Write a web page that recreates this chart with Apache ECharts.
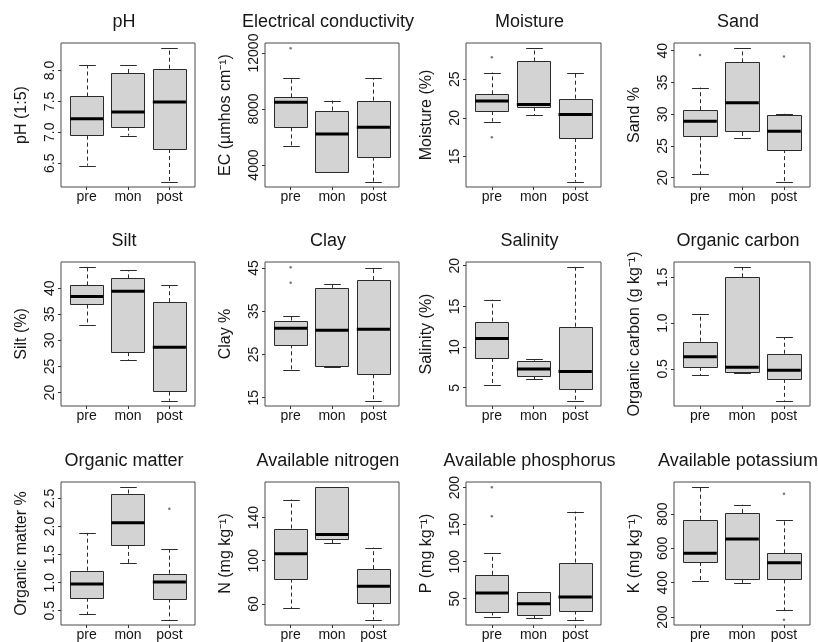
<!DOCTYPE html>
<html>
<head>
<meta charset="utf-8">
<title>Soil parameters by season</title>
<script src="https://cdn.jsdelivr.net/npm/echarts@6/dist/echarts.min.js"></script>
<style>
html,body{margin:0;padding:0;background:#fff;}
#chart{width:818px;height:642px;}
</style>
</head>
<body>
<div id="chart"></div>
<script>
/**
 * data
 * box rows: [lower whisker, Q1, median, Q3, upper whisker] for pre / mon / post
 * outliers: [season index, value]
 */
var seasons = ['pre', 'mon', 'post'];

var titles = ['pH', 'Electrical conductivity', 'Moisture', 'Sand',
	'Silt', 'Clay', 'Salinity', 'Organic carbon',
	'Organic matter', 'Available nitrogen', 'Available phosphorus', 'Available potassium'];

var yNames = ['pH (1:5)', 'EC (\u00b5mhos cm\u207b\u00b9)', 'Moisture (%)', 'Sand %',
	'Silt (%)', 'Clay %', 'Salinity (%)', 'Organic carbon (g kg\u207b\u00b9)',
	'Organic matter %', 'N (mg kg\u207b\u00b9)', 'P (mg kg\u207b\u00b9)', 'K (mg kg\u207b\u00b9)'];

var phBox = [[6.46, 6.945, 7.22, 7.58, 8.09], [6.945, 7.09, 7.33, 7.96, 8.09], [6.2, 6.73, 7.49, 8.03, 8.36]];
var phOut = [];
var phTicks = [6.5, 7.0, 7.5, 8.0];

var ecBox = [[5336, 6693, 8479, 8836, 10221], [3529, 3529, 6221, 7886, 8600], [2814, 4600, 6693, 8600, 10221]];
var ecOut = [[0, 12336]];
var ecTicks = [4000, 8000, 12000];

var moistBox = [[19.52, 20.87, 22.17, 23.04, 25.87], [20.35, 21.39, 21.74, 27.3, 29.0], [11.74, 17.4, 20.44, 22.48, 25.87]];
var moistOut = [[0, 27.83], [0, 17.48]];
var moistTicks = [15, 20, 25];

var sandBox = [[20.54, 26.51, 28.89, 30.63, 34.19], [26.25, 27.21, 31.81, 38.16, 40.38], [19.37, 24.5, 27.3, 29.95, 30.06]];
var sandOut = [[0, 39.32], [2, 39.1]];
var sandTicks = [20, 25, 30, 35, 40];

var siltBox = [[32.94, 36.87, 38.4, 40.52, 43.98], [26.28, 27.75, 39.42, 41.86, 43.46], [18.46, 20.19, 28.7, 37.3, 40.58]];
var siltOut = [];
var siltTicks = [20, 25, 30, 35, 40];

var clayBox = [[21.44, 27.33, 31.05, 32.84, 34.0], [22.05, 22.44, 30.58, 40.42, 41.2], [14.3, 20.42, 30.81, 42.2, 45.07]];
var clayOut = [[0, 45.16], [0, 41.58]];
var clayTicks = [15, 25, 35, 45];

var salBox = [[5.33, 8.66, 11.04, 13.12, 15.83], [6.04, 6.45, 7.29, 8.33, 8.5], [3.41, 4.88, 7.0, 12.5, 19.8]];
var salOut = [];
var salTicks = [5, 10, 15, 20];

var ocBox = [[0.43, 0.522, 0.632, 0.797, 1.104], [0.45, 0.456, 0.518, 1.5, 1.61], [0.152, 0.39, 0.485, 0.665, 0.847]];
var ocOut = [];
var ocTicks = [0.5, 1.0, 1.5];

var omBox = [[0.44, 0.732, 0.977, 1.214, 1.887], [1.345, 1.673, 2.066, 2.589, 2.70], [0.34, 0.72, 1.01, 1.16, 1.60]];
var omOut = [[2, 2.316]];
var omTicks = [0.5, 1.0, 1.5, 2.0, 2.5];

var nBox = [[55.9, 83.5, 106.5, 129.8, 156.7], [116.1, 119.5, 124.2, 168, 168], [45.4, 60.6, 76.4, 92.2, 112.1]];
var nOut = [];
var nTicks = [60, 100, 140];

var pBox = [[24.8, 32.9, 57.7, 82.3, 111.6], [23.5, 27.5, 43.3, 59.0, 59.0], [21.7, 34.2, 52.3, 98.9, 167.7]];
var pOut = [[0, 200.5], [0, 161.5]];
var pTicks = [50, 100, 150, 200];

var kBox = [[409, 520.5, 571.4, 766.5, 955.7], [399.4, 419.1, 655.2, 805.7, 854.4], [239.3, 419.1, 516.3, 571.4, 762.7]];
var kOut = [[2, 918.8], [2, 184.8]];
var kTicks = [200, 400, 600, 800];

var boxes = [phBox, ecBox, moistBox, sandBox, siltBox, clayBox, salBox, ocBox, omBox, nBox, pBox, kBox];
var outliers = [phOut, ecOut, moistOut, sandOut, siltOut, clayOut, salOut, ocOut, omOut, nOut, pOut, kOut];
var ticks = [phTicks, ecTicks, moistTicks, sandTicks, siltTicks, clayTicks, salTicks, ocTicks, omTicks, nTicks, pTicks, kTicks];
var tickDigits = [1, 0, 0, 0, 0, 0, 0, 1, 1, 0, 0, 0];

/* layout of the 4 x 3 panels (plot frames) */
var colLeft = [61, 265, 466, 674];
var colWidth = [134, 134, 135, 136];
var rowTop = [43, 262, 482];
var rowHeight = [144, 144, 143];

var FONT = '"Liberation Sans", Arial, Helvetica, sans-serif';
var TXT = '#161616';

// R style range: data range padded by 4% each side
function paddedRange(box, out) {
	var lo = Infinity, hi = -Infinity;
	box.forEach(function (b) { lo = Math.min(lo, b[0]); hi = Math.max(hi, b[4]); });
	out.forEach(function (o) { lo = Math.min(lo, o[1]); hi = Math.max(hi, o[1]); });
	var pad = (hi - lo) * 0.04;
	return [lo - pad, hi + pad];
}

function crisp(v) { return Math.round(v) + 0.5; }

function renderBox(params, api) {
	var x = api.value(0);
	var lo = api.coord([x, api.value(1)]);
	var q1 = api.coord([x, api.value(2)]);
	var md = api.coord([x, api.value(3)]);
	var q3 = api.coord([x, api.value(4)]);
	var hi = api.coord([x, api.value(5)]);
	var half = api.coord([x + 0.4, api.value(3)])[0] - md[0];
	var cx = crisp(md[0]);
	var dash = {stroke: '#2b2b2b', lineWidth: 1, lineDash: [4, 3]};
	var solid = {stroke: '#2b2b2b', lineWidth: 1};
	return {
		type: 'group',
		children: [
			{type: 'line', shape: {x1: cx, y1: q3[1], x2: cx, y2: hi[1]}, style: dash},
			{type: 'line', shape: {x1: cx, y1: q1[1], x2: cx, y2: lo[1]}, style: dash},
			{type: 'line', shape: {x1: cx - half / 2, y1: crisp(hi[1]), x2: cx + half / 2, y2: crisp(hi[1])}, style: solid},
			{type: 'line', shape: {x1: cx - half / 2, y1: crisp(lo[1]), x2: cx + half / 2, y2: crisp(lo[1])}, style: solid},
			{type: 'rect', shape: {x: crisp(md[0] - half), y: crisp(q3[1]), width: Math.round(half * 2), height: Math.round(q1[1] - q3[1])},
				style: {fill: '#d3d3d3', stroke: '#2b2b2b', lineWidth: 1}},
			{type: 'line', shape: {x1: md[0] - half, y1: md[1], x2: md[0] + half, y2: md[1]}, style: {stroke: '#000', lineWidth: 3}}
		]
	};
}

var grids = [], xAxes = [], yAxes = [], series = [], graphics = [];

boxes.forEach(function (box, i) {
	var col = i % 4, row = Math.floor(i / 4);
	var left = colLeft[col], top = rowTop[row], w = colWidth[col], h = rowHeight[row];
	var range = paddedRange(box, outliers[i]);
	var digits = tickDigits[i];

	grids.push({
		left: left, top: top, width: w, height: h,
		show: true, borderColor: '#4a4a4a', borderWidth: 1, backgroundColor: 'transparent',
		containLabel: false
	});
	xAxes.push({
		type: 'value', gridIndex: i, min: 0.38, max: 3.62,
		axisLine: {show: false},
		splitLine: {show: false},
		axisTick: {show: true, length: 3, customValues: [1, 2, 3], lineStyle: {color: '#333'}},
		axisLabel: {
			customValues: [1, 2, 3], margin: 3, color: TXT, fontSize: 14, fontFamily: FONT,
			formatter: function (v) { return seasons[Math.round(v) - 1]; }
		}
	});
	yAxes.push({
		type: 'value', gridIndex: i, min: range[0], max: range[1],
		name: yNames[i], nameLocation: 'middle', nameRotate: 90, nameGap: 31,
		nameTextStyle: {color: TXT, fontSize: 16, fontFamily: FONT},
		axisLine: {show: false},
		splitLine: {show: false},
		axisTick: {show: true, length: 3, customValues: ticks[i], lineStyle: {color: '#333'}},
		axisLabel: {
			customValues: ticks[i], rotate: 90, margin: 4, color: TXT, fontSize: 14, fontFamily: FONT,
			formatter: function (v) { return v.toFixed(digits); }
		}
	});
	series.push({
		type: 'custom', xAxisIndex: i, yAxisIndex: i,
		renderItem: renderBox, clip: false, silent: true,
		encode: {x: 0, y: [1, 2, 3, 4, 5]},
		data: box.map(function (b, k) { return [k + 1].concat(b); })
	});
	series.push({
		type: 'scatter', xAxisIndex: i, yAxisIndex: i, silent: true,
		symbol: 'circle', symbolSize: 2.5,
		itemStyle: {color: '#555'},
		data: outliers[i].map(function (o) { return [o[0] + 1, o[1]]; })
	});
	// panel titles sit a little left of the frame centre, as in the original figure
	graphics.push({
		type: 'text', x: left + w / 2 - 4, y: top - 21, silent: true,
		style: {text: titles[i], fill: TXT, font: '18px ' + FONT, align: 'center', verticalAlign: 'middle'}
	});
});

var chart = echarts.init(document.getElementById('chart'), null, {renderer: 'canvas'});
chart.setOption({
	animation: false,
	backgroundColor: '#fff',
	grid: grids,
	xAxis: xAxes,
	yAxis: yAxes,
	series: series,
	graphic: graphics
});
</script>
</body>
</html>
